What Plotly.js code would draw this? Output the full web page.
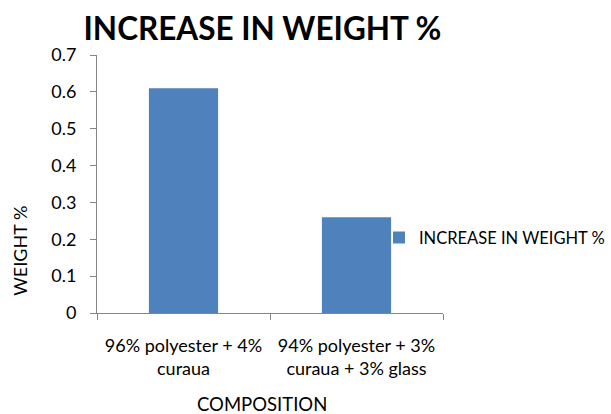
<!DOCTYPE html>
<html>
<head>
<meta charset="utf-8">
<script src="https://cdn.plot.ly/plotly-3.0.1.min.js"></script>
<style>
  html, body { margin: 0; padding: 0; background: #fff; }
  #chart { width: 611px; height: 414px; }
</style>
</head>
<body>
<div id="chart"></div>
<script>
// Weight gain per composition
var categories = ['96% polyester + 4%<br>curaua', '94% polyester + 3%<br>curaua + 3% glass'];
var weightIncrease = [0.61, 0.26];
var seriesName = 'INCREASE IN WEIGHT %';
var yTicks = [0, 0.1, 0.2, 0.3, 0.4, 0.5, 0.6, 0.7];
var yTickText = ['0', '0.1', '0.2', '0.3', '0.4', '0.5', '0.6', '0.7'];

var FONT = 'Lato, "Open Sans", sans-serif';
var AXIS_GREY = '#868686';

var trace = {
  type: 'bar',
  x: categories,
  y: weightIncrease,
  name: seriesName,
  marker: { color: '#4F81BD', line: { width: 0 } },
  showlegend: true,
  hoverinfo: 'x+y'
};

var layout = {
  width: 611,
  height: 414,
  paper_bgcolor: '#ffffff',
  plot_bgcolor: '#ffffff',
  margin: { l: 97, r: 168, t: 55, b: 101, pad: 0, autoexpand: false },
  bargap: 0.6,
  font: { family: FONT, color: '#000000', size: 17 },
  title: {
    text: '<b>INCREASE IN WEIGHT %</b>',
    font: { family: FONT, size: 31.5, color: '#000000' },
    xref: 'container', yref: 'container',
    x: 0.4296, xanchor: 'center',
    y: 0.93, yanchor: 'middle'
  },
  xaxis: {
    type: 'category',
    automargin: false,
    showline: true, linecolor: AXIS_GREY, linewidth: 1,
    showgrid: false, zeroline: false,
    ticks: 'outside', tickson: 'boundaries', ticklen: 6, tickcolor: AXIS_GREY,
    tickfont: { family: FONT, size: 18, color: '#000000' },
    ticklabelstandoff: 16
  },
  yaxis: {
    range: [0, 0.7],
    automargin: false,
    tickvals: yTicks, ticktext: yTickText,
    showline: true, linecolor: AXIS_GREY, linewidth: 1,
    showgrid: false, zeroline: false,
    ticks: 'outside', ticklen: 6, tickcolor: AXIS_GREY,
    tickfont: { family: FONT, size: 18, color: '#000000' },
    ticklabelstandoff: 10
  },
  legend: {
    x: (379 - 97) / 346, xanchor: 'left',
    y: (313.3 - 238) / 258.3, yanchor: 'middle',
    bgcolor: 'rgba(0,0,0,0)',
    font: { family: FONT, size: 16.5, color: '#000000' }
  },
  annotations: [
    {
      text: 'WEIGHT %', textangle: -90,
      xref: 'paper', yref: 'paper',
      x: (20 - 97) / 346, y: (313.3 - 251) / 258.3,
      xanchor: 'center', yanchor: 'middle',
      showarrow: false,
      font: { family: FONT, size: 18, color: '#000000' }
    },
    {
      text: 'COMPOSITION',
      xref: 'paper', yref: 'paper',
      x: (262 - 97) / 346, y: (313.3 - 404) / 258.3,
      xanchor: 'center', yanchor: 'middle',
      showarrow: false,
      font: { family: FONT, size: 18.5, color: '#000000' }
    }
  ]
};

Plotly.newPlot('chart', [trace], layout, { displayModeBar: false, staticPlot: true });
</script>
</body>
</html>
